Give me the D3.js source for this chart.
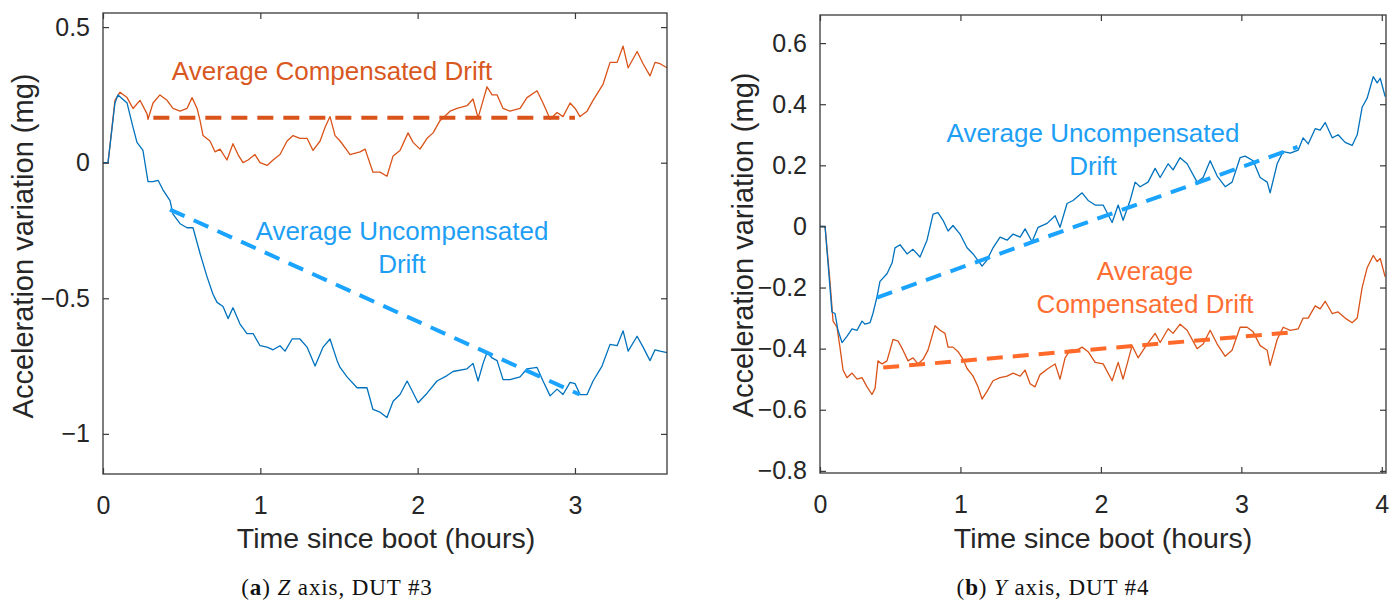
<!DOCTYPE html>
<html>
<head>
<meta charset="utf-8">
<script src="https://cdn.jsdelivr.net/npm/d3@7"></script>
<style>
  body { margin: 0; background: #fff; }
  svg { display: block; }
</style>
</head>
<body>
<svg class="chart" width="1398" height="601"></svg>
<script>
// ---- data: [hours, mg] ----
const zCompensated = [
  [0, 0], [0.032, 0], [0.076, 0.23], [0.108, 0.26], [0.153, 0.24], [0.191, 0.2], [0.235, 0.23],
  [0.28, 0.18], [0.286, 0.16], [0.318, 0.22], [0.362, 0.25], [0.407, 0.23], [0.445, 0.2],
  [0.49, 0.19], [0.534, 0.2], [0.566, 0.24], [0.598, 0.2], [0.617, 0.155], [0.636, 0.1],
  [0.68, 0.08], [0.712, 0.04], [0.744, 0.05], [0.788, 0.01], [0.826, 0.07], [0.858, 0.03],
  [0.89, 0], [0.922, 0.01], [0.966, 0.03], [0.998, 0], [1.043, -0.01], [1.081, 0.01],
  [1.125, 0.03], [1.17, 0.08], [1.208, 0.1], [1.252, 0.09], [1.297, 0.09], [1.335, 0.045],
  [1.38, 0.08], [1.411, 0.13], [1.443, 0.17], [1.475, 0.1], [1.507, 0.08], [1.551, 0.045],
  [1.57, 0.03], [1.634, 0.04], [1.666, 0.05], [1.716, -0.035], [1.761, -0.035], [1.805, -0.05],
  [1.844, 0.025], [1.888, 0.045], [1.939, 0.11], [1.971, 0.075], [2.015, 0.05], [2.06, 0.09],
  [2.098, 0.11], [2.142, 0.155], [2.206, 0.19], [2.25, 0.2], [2.314, 0.21], [2.352, 0.235],
  [2.384, 0.165], [2.416, 0.23], [2.441, 0.28], [2.473, 0.25], [2.505, 0.25], [2.543, 0.2],
  [2.587, 0.19], [2.651, 0.2], [2.695, 0.24], [2.759, 0.265], [2.797, 0.22], [2.842, 0.16],
  [2.886, 0.185], [2.924, 0.17], [2.969, 0.22], [3.001, 0.2], [3.032, 0.17], [3.077, 0.19],
  [3.115, 0.23], [3.179, 0.29], [3.223, 0.37], [3.268, 0.37], [3.306, 0.43], [3.338, 0.35],
  [3.395, 0.41], [3.433, 0.365], [3.477, 0.32], [3.509, 0.37], [3.541, 0.365], [3.585, 0.35]
];
const zUncompensated = [
  [0, 0], [0.032, 0], [0.076, 0.22], [0.095, 0.25], [0.153, 0.22], [0.191, 0.13], [0.216, 0.075],
  [0.254, 0.045], [0.286, -0.07], [0.318, -0.07], [0.35, -0.065], [0.381, -0.1], [0.426, -0.14],
  [0.445, -0.19], [0.49, -0.225], [0.534, -0.24], [0.572, -0.24], [0.617, -0.335], [0.661, -0.42],
  [0.699, -0.485], [0.725, -0.515], [0.763, -0.53], [0.795, -0.575], [0.826, -0.535], [0.871, -0.595],
  [0.915, -0.63], [0.954, -0.63], [0.998, -0.675], [1.043, -0.68], [1.081, -0.69], [1.125, -0.675],
  [1.157, -0.695], [1.202, -0.65], [1.252, -0.65], [1.297, -0.68], [1.348, -0.75], [1.399, -0.68],
  [1.443, -0.65], [1.488, -0.73], [1.507, -0.755], [1.551, -0.79], [1.615, -0.83], [1.678, -0.83],
  [1.716, -0.91], [1.761, -0.92], [1.805, -0.94], [1.844, -0.88], [1.888, -0.855], [1.933, -0.805],
  [1.964, -0.84], [2.003, -0.885], [2.06, -0.85], [2.123, -0.805], [2.187, -0.785], [2.225, -0.77],
  [2.314, -0.76], [2.352, -0.74], [2.384, -0.805], [2.416, -0.74], [2.441, -0.7], [2.473, -0.72],
  [2.505, -0.73], [2.543, -0.8], [2.587, -0.8], [2.651, -0.79], [2.695, -0.76], [2.759, -0.755],
  [2.797, -0.805], [2.842, -0.86], [2.886, -0.835], [2.924, -0.855], [2.969, -0.81], [3.001, -0.815],
  [3.032, -0.855], [3.077, -0.855], [3.115, -0.805], [3.172, -0.75], [3.223, -0.67], [3.268, -0.675],
  [3.306, -0.62], [3.338, -0.695], [3.395, -0.64], [3.433, -0.68], [3.477, -0.73], [3.509, -0.69],
  [3.541, -0.695], [3.585, -0.7]
];
const zCompensatedTrend = [[0.32, 0.166], [3.0, 0.166]];
const zUncompensatedTrend = [[0.426, -0.173], [3.03, -0.855]];

const yUncompensated = [
  [0, 0], [0.036, 0], [0.085, -0.28], [0.107, -0.285], [0.128, -0.34], [0.157, -0.38], [0.192, -0.36],
  [0.228, -0.335], [0.264, -0.34], [0.299, -0.31], [0.321, -0.32], [0.356, -0.315], [0.377, -0.285],
  [0.406, -0.23], [0.427, -0.18], [0.477, -0.155], [0.513, -0.12], [0.534, -0.07], [0.57, -0.06],
  [0.62, -0.09], [0.662, -0.075], [0.712, -0.1], [0.762, -0.045], [0.805, 0.04], [0.84, 0.045],
  [0.876, 0.02], [0.912, -0.015], [0.947, 0.003], [0.997, -0.025], [1.047, -0.07], [1.09, -0.09],
  [1.154, -0.13], [1.189, -0.11], [1.232, -0.07], [1.282, -0.035], [1.332, -0.045], [1.375, -0.025],
  [1.425, -0.035], [1.46, -0.008], [1.51, -0.05], [1.553, -0.003], [1.617, 0.01], [1.674, 0.035],
  [1.709, -0.003], [1.759, 0.075], [1.802, 0.085], [1.866, 0.11], [1.909, 0.085], [1.959, 0.07],
  [2.016, 0.07], [2.08, 0.013], [2.123, 0.07], [2.158, 0.02], [2.208, 0.085], [2.244, 0.145],
  [2.279, 0.13], [2.336, 0.145], [2.386, 0.19], [2.422, 0.16], [2.479, 0.205], [2.514, 0.185],
  [2.564, 0.225], [2.614, 0.205], [2.685, 0.145], [2.728, 0.16], [2.778, 0.215], [2.828, 0.165],
  [2.885, 0.13], [2.934, 0.145], [2.991, 0.225], [3.027, 0.23], [3.084, 0.215], [3.134, 0.16],
  [3.184, 0.145], [3.205, 0.11], [3.255, 0.205], [3.298, 0.245], [3.348, 0.24], [3.405, 0.25],
  [3.44, 0.29], [3.476, 0.27], [3.526, 0.32], [3.561, 0.315], [3.597, 0.34], [3.647, 0.29],
  [3.689, 0.3], [3.739, 0.275], [3.789, 0.265], [3.825, 0.3], [3.86, 0.39], [3.896, 0.42],
  [3.939, 0.49], [3.967, 0.47], [3.989, 0.485], [4.024, 0.425]
];
const yCompensated = [
  [0, 0], [0.036, 0], [0.071, -0.18], [0.093, -0.31], [0.121, -0.33], [0.142, -0.395], [0.164, -0.47],
  [0.192, -0.495], [0.228, -0.48], [0.264, -0.5], [0.299, -0.495], [0.335, -0.525], [0.37, -0.55],
  [0.392, -0.53], [0.413, -0.44], [0.442, -0.45], [0.477, -0.44], [0.52, -0.37], [0.556, -0.375],
  [0.591, -0.405], [0.627, -0.44], [0.662, -0.43], [0.698, -0.45], [0.734, -0.435], [0.769, -0.405],
  [0.819, -0.325], [0.855, -0.34], [0.89, -0.35], [0.912, -0.395], [0.947, -0.395], [0.983, -0.41],
  [1.019, -0.435], [1.047, -0.465], [1.09, -0.49], [1.125, -0.525], [1.154, -0.565], [1.189, -0.54],
  [1.232, -0.505], [1.282, -0.495], [1.332, -0.49], [1.375, -0.48], [1.425, -0.49], [1.46, -0.47],
  [1.496, -0.515], [1.531, -0.525], [1.567, -0.485], [1.624, -0.465], [1.674, -0.45], [1.709, -0.5],
  [1.745, -0.43], [1.781, -0.405], [1.83, -0.405], [1.866, -0.395], [1.909, -0.41], [1.959, -0.445],
  [2.016, -0.45], [2.08, -0.505], [2.123, -0.445], [2.158, -0.5], [2.222, -0.39], [2.265, -0.43],
  [2.315, -0.395], [2.386, -0.35], [2.422, -0.38], [2.479, -0.335], [2.514, -0.35], [2.564, -0.32],
  [2.614, -0.34], [2.685, -0.4], [2.728, -0.385], [2.778, -0.34], [2.828, -0.385], [2.885, -0.425],
  [2.934, -0.405], [2.991, -0.33], [3.041, -0.33], [3.084, -0.345], [3.134, -0.39], [3.184, -0.405],
  [3.205, -0.455], [3.255, -0.37], [3.298, -0.33], [3.348, -0.34], [3.405, -0.335], [3.44, -0.3],
  [3.476, -0.3], [3.526, -0.26], [3.561, -0.27], [3.597, -0.245], [3.647, -0.285], [3.689, -0.28],
  [3.739, -0.3], [3.789, -0.315], [3.825, -0.3], [3.86, -0.2], [3.896, -0.135], [3.939, -0.095],
  [3.967, -0.115], [3.989, -0.105], [4.024, -0.165]
];
const yUncompensatedTrend = [[0.406, -0.233], [3.4, 0.26]];
const yCompensatedTrend = [[0.45, -0.462], [3.4, -0.345]];

const zYTicks = [-1, -0.5, 0, 0.5];
const zXTicks = [0, 1, 2, 3];
const yYTicks = [-0.8, -0.6, -0.4, -0.2, 0, 0.2, 0.4, 0.6];
const yXTicks = [0, 1, 2, 3, 4];

const svg = d3.select(".chart");
const fmt = v => (v < 0 ? "\u2212" + Math.abs(v) : String(v));
const sans = "Liberation Sans, Arial, sans-serif";

const panels = [
  {
    box: { x0: 103, x1: 667, y0: 13, y1: 474 },
    xDomain: [0, 3.585], yDomain: [-1.148, 0.552],
    xTicks: zXTicks, yTicks: zYTicks,
    lines: [
      { data: zCompensated, color: "#d95319" },
      { data: zUncompensated, color: "#0072bd" }
    ],
    trends: [
      { data: zCompensatedTrend, color: "#d9531a" },
      { data: zUncompensatedTrend, color: "#1aa3ff" }
    ],
    notes: [
      { lines: ["Average Compensated Drift"], x: 332, y: 80, color: "#d9581f" },
      { lines: ["Average Uncompensated", "Drift"], x: 402, y: 240, color: "#1e9ff5" }
    ],
    yTitle: { x: 33, y: 246 }, xTitleX: 386,
    caption: { x: 337, letter: "a", axis: "Z", dut: "3" }
  },
  {
    box: { x0: 820, x1: 1386, y0: 15, y1: 473 },
    xDomain: [0, 4.03], yDomain: [-0.807, 0.692],
    xTicks: yXTicks, yTicks: yYTicks,
    lines: [
      { data: yCompensated, color: "#d95319" },
      { data: yUncompensated, color: "#0072bd" }
    ],
    trends: [
      { data: yUncompensatedTrend, color: "#1aa3ff" },
      { data: yCompensatedTrend, color: "#ff6a2b" }
    ],
    notes: [
      { lines: ["Average Uncompensated", "Drift"], x: 1093, y: 142, color: "#1e9ff5" },
      { lines: ["Average", "Compensated Drift"], x: 1145, y: 280, color: "#ff6f33" }
    ],
    yTitle: { x: 753, y: 245 }, xTitleX: 1103,
    caption: { x: 1053, letter: "b", axis: "Y", dut: "4" }
  }
];

panels.forEach(p => {
  const b = p.box;
  const x = d3.scaleLinear().domain(p.xDomain).range([b.x0, b.x1]);
  const y = d3.scaleLinear().domain(p.yDomain).range([b.y1, b.y0]);
  const g = svg.append("g");

  const line = d3.line().x(d => x(d[0])).y(d => y(d[1]));

  // measured curves
  p.lines.forEach(l => {
    g.append("path")
      .datum(l.data)
      .attr("d", line)
      .attr("fill", "none")
      .attr("stroke", l.color)
      .attr("stroke-width", 1.3)
      .attr("stroke-linejoin", "round");
  });

  // average drift lines
  p.trends.forEach(l => {
    g.append("path")
      .datum(l.data)
      .attr("d", line)
      .attr("fill", "none")
      .attr("stroke", l.color)
      .attr("stroke-width", 4)
      .attr("stroke-dasharray", "16,10");
  });

  // axes, MATLAB style: ticks inside on every side
  const axisColor = "#3a3a3a";
  const styleAxis = (sel, showText) => {
    sel.select(".domain").remove();
    sel.selectAll(".tick line").attr("stroke", axisColor).attr("stroke-width", 1.2);
    sel.selectAll(".tick text")
      .attr("fill", "#262626")
      .style("font-family", sans)
      .style("font-size", "25px")
      .style("display", showText ? null : "none");
  };

  g.append("g")
    .attr("transform", `translate(0,${b.y1})`)
    .call(d3.axisBottom(x).tickValues(p.xTicks).tickFormat(fmt).tickSize(-6).tickPadding(22))
    .call(s => styleAxis(s, true));
  g.append("g")
    .attr("transform", `translate(0,${b.y0})`)
    .call(d3.axisTop(x).tickValues(p.xTicks).tickSize(-6))
    .call(s => styleAxis(s, false));
  g.append("g")
    .attr("transform", `translate(${b.x0},0)`)
    .call(d3.axisLeft(y).tickValues(p.yTicks).tickFormat(fmt).tickSize(-6).tickPadding(13))
    .call(s => styleAxis(s, true));
  g.append("g")
    .attr("transform", `translate(${b.x1},0)`)
    .call(d3.axisRight(y).tickValues(p.yTicks).tickSize(-6))
    .call(s => styleAxis(s, false));

  g.append("rect")
    .attr("x", b.x0).attr("y", b.y0)
    .attr("width", b.x1 - b.x0).attr("height", b.y1 - b.y0)
    .attr("fill", "none")
    .attr("stroke", axisColor)
    .attr("stroke-width", 1.3);

  // axis titles
  g.append("text")
    .attr("x", p.xTitleX).attr("y", 548)
    .attr("text-anchor", "middle")
    .attr("fill", "#262626")
    .style("font-family", sans)
    .style("font-size", "28.5px")
    .text("Time since boot (hours)");
  g.append("text")
    .attr("transform", `translate(${p.yTitle.x},${p.yTitle.y}) rotate(-90)`)
    .attr("text-anchor", "middle")
    .attr("fill", "#262626")
    .style("font-family", sans)
    .style("font-size", "29px")
    .text("Acceleration variation (mg)");

  // annotations
  p.notes.forEach(n => {
    const t = g.append("text")
      .attr("text-anchor", "middle")
      .attr("fill", n.color)
      .style("font-family", sans)
      .style("font-size", "26px");
    n.lines.forEach((s, i) => {
      t.append("tspan").attr("x", n.x).attr("y", n.y + i * 33).text(s);
    });
  });

  // caption
  const c = g.append("text")
    .attr("x", p.caption.x).attr("y", 595)
    .attr("text-anchor", "middle")
    .attr("fill", "#111")
    .style("font-family", "Liberation Serif, Times New Roman, serif")
    .style("font-size", "23px")
    .style("letter-spacing", "0.9px");
  c.append("tspan").text("(");
  c.append("tspan").attr("font-weight", "bold").text(p.caption.letter);
  c.append("tspan").text(") ");
  c.append("tspan").attr("font-style", "italic").text(p.caption.axis);
  c.append("tspan").text(` axis, DUT #${p.caption.dut}`);
});
</script>
</body>
</html>
